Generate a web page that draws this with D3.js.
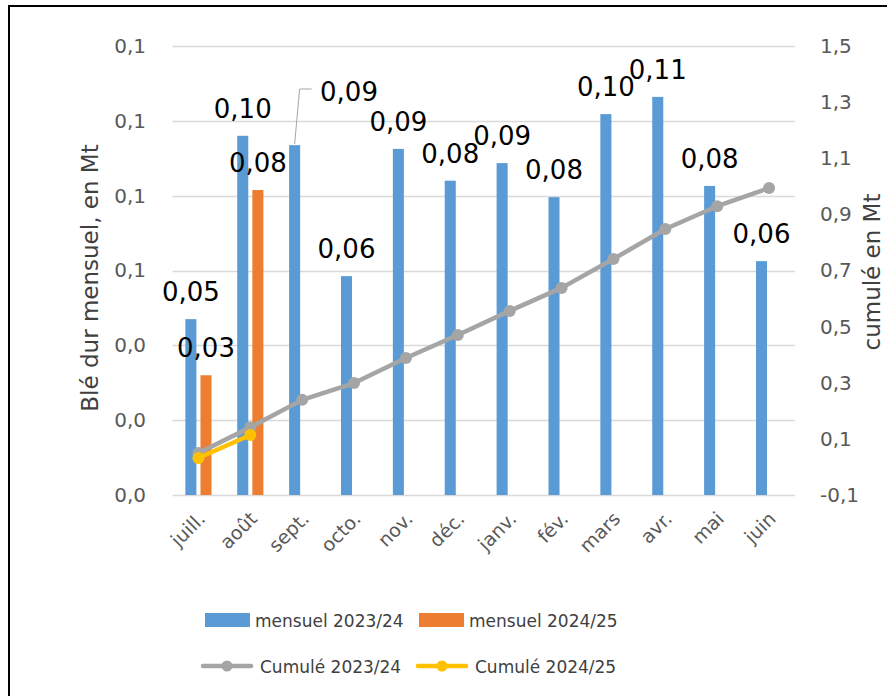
<!DOCTYPE html>
<html>
<head>
<meta charset="utf-8">
<script src="https://cdn.jsdelivr.net/npm/d3@7"></script>
<style>
  body { margin: 0; background: #fff; }
  svg { display: block; font-family: "DejaVu Sans", sans-serif; }
</style>
</head>
<body>
<div id="chart"></div>
<script>
var months = ['juill.', 'août', 'sept.', 'octo.', 'nov.', 'déc.', 'janv.', 'fév.', 'mars', 'avr.', 'mai', 'juin'];
var mensuel2324 = [0.047, 0.096, 0.0935, 0.0585, 0.0925, 0.084, 0.0887, 0.0796, 0.1018, 0.1064, 0.0826, 0.0625];
var mensuel2425 = [0.032, 0.0815];
var cumul2324 = [0.050, 0.141, 0.239, 0.299, 0.388, 0.470, 0.556, 0.638, 0.741, 0.848, 0.929, 0.994];
var cumul2425 = [0.032, 0.114];
var leftTicks = [0, 0.02, 0.04, 0.06, 0.08, 0.10, 0.12];
var rightTicks = [-0.1, 0.1, 0.3, 0.5, 0.7, 0.9, 1.1, 1.3, 1.5];
var seriesNames = ['mensuel 2023/24', 'mensuel 2024/25', 'Cumulé 2023/24', 'Cumulé 2024/25'];

(function() {
  var W = 887, H = 696;
  var left = 172.5, right = 795, top = 46, bottom = 495;
  var blue = '#5b9bd5', orange = '#ed7d31', grey = '#a5a5a5', yellow = '#ffc000';

  var fmt1 = function(v) { return d3.format('.1f')(v).replace('.', ',').replace('−', '-'); };
  var fmt2 = function(v) { return d3.format('.2f')(v).replace('.', ','); };

  var x = d3.scaleBand().domain(months).range([left, right]);
  var xSub = d3.scaleBand().domain([0, 1]).range([0, x.bandwidth()])
      .paddingInner(0.27).paddingOuter(0.85);
  var yL = d3.scaleLinear().domain([0, 0.12]).range([bottom, top]);
  var yR = d3.scaleLinear().domain([-0.1, 1.5]).range([bottom, top]);

  var svg = d3.select('#chart').append('svg')
      .attr('width', W).attr('height', H);

  svg.append('rect').attr('width', W).attr('height', H).attr('fill', '#fff');

  // frame (only top and left edges fall inside the picture)
  svg.append('rect')
      .attr('x', 9).attr('y', 6).attr('width', 900).attr('height', 720)
      .attr('fill', 'none').attr('stroke', '#000').attr('stroke-width', 2);

  // gridlines
  svg.append('g').selectAll('line')
      .data(leftTicks)
      .enter().append('line')
      .attr('x1', left).attr('x2', right)
      .attr('y1', function(d) { return Math.round(yL(d)) + 0.5; })
      .attr('y2', function(d) { return Math.round(yL(d)) + 0.5; })
      .attr('stroke', '#d9d9d9').attr('stroke-width', 1.3);

  // left axis labels
  var yAxisL = d3.axisLeft(yL).tickValues(leftTicks).tickFormat(fmt1).tickSize(0).tickPadding(0);
  var gL = svg.append('g').attr('transform', 'translate(146,0)').call(yAxisL);
  gL.select('.domain').remove();
  gL.selectAll('text').attr('fill', '#595959').style('font-size', '20px')
      .style('font-family', '"DejaVu Sans", sans-serif');

  // right axis labels
  var yAxisR = d3.axisRight(yR).tickValues(rightTicks).tickFormat(fmt1).tickSize(0).tickPadding(0);
  var gR = svg.append('g').attr('transform', 'translate(820,0)').call(yAxisR);
  gR.select('.domain').remove();
  gR.selectAll('text').attr('fill', '#595959').style('font-size', '20px')
      .style('font-family', '"DejaVu Sans", sans-serif');

  // x axis labels
  var xAxis = d3.axisBottom(x).tickSize(0).tickPadding(0);
  var gX = svg.append('g').attr('transform', 'translate(0,' + bottom + ')').call(xAxis);
  gX.select('.domain').remove();
  gX.selectAll('text')
      .attr('fill', '#595959').style('font-size', '19px')
      .style('font-family', '"DejaVu Sans", sans-serif')
      .attr('text-anchor', 'end')
      .attr('dy', null).attr('y', null)
      .attr('transform', 'translate(8,25) rotate(-45)');

  // bars
  svg.append('g').selectAll('rect')
      .data(mensuel2324)
      .enter().append('rect')
      .attr('x', function(d, i) { return x(months[i]) + xSub(0); })
      .attr('y', function(d) { return yL(d); })
      .attr('width', xSub.bandwidth())
      .attr('height', function(d) { return bottom - yL(d); })
      .attr('fill', blue);

  svg.append('g').selectAll('rect')
      .data(mensuel2425)
      .enter().append('rect')
      .attr('x', function(d, i) { return x(months[i]) + xSub(1); })
      .attr('y', function(d) { return yL(d); })
      .attr('width', xSub.bandwidth())
      .attr('height', function(d) { return bottom - yL(d); })
      .attr('fill', orange);

  // lines
  var line = d3.line()
      .x(function(d, i) { return x(months[i]) + x.bandwidth() / 2; })
      .y(function(d) { return yR(d); });

  function drawCumul(data, color) {
    svg.append('path').datum(data)
        .attr('d', line)
        .attr('fill', 'none').attr('stroke', color)
        .attr('stroke-width', 4.5).attr('stroke-linejoin', 'round').attr('stroke-linecap', 'round');
    svg.append('g').selectAll('circle')
        .data(data)
        .enter().append('circle')
        .attr('cx', function(d, i) { return x(months[i]) + x.bandwidth() / 2; })
        .attr('cy', function(d) { return yR(d); })
        .attr('r', 6)
        .attr('fill', color);
  }
  drawCumul(cumul2324, grey);
  drawCumul(cumul2425, yellow);

  // data labels
  var labels = svg.append('g')
      .style('font-size', '26px').attr('fill', '#000').attr('text-anchor', 'middle');

  mensuel2324.forEach(function(d, i) {
    var cx = x(months[i]) + xSub(0) + xSub.bandwidth() / 2;
    var ty = yL(d) - 18;
    if (months[i] === 'sept.') {
      // label moved out with a leader line
      svg.append('polyline')
          .attr('points', [[cx, yL(d) - 1], [cx + 5, 89], [cx + 17, 89]].join(' '))
          .attr('fill', 'none').attr('stroke', '#a6a6a6').attr('stroke-width', 1);
      cx = 349; ty = 101;
    }
    labels.append('text').attr('x', cx).attr('y', ty).text(fmt2(d));
  });
  mensuel2425.forEach(function(d, i) {
    var cx = x(months[i]) + xSub(1) + xSub.bandwidth() / 2;
    labels.append('text').attr('x', cx).attr('y', yL(d) - 18).text(fmt2(d));
  });

  // axis titles
  svg.append('text')
      .attr('transform', 'translate(98,278) rotate(-90)')
      .attr('text-anchor', 'middle')
      .attr('fill', '#404040').style('font-size', '23px')
      .text('Blé dur mensuel, en Mt');
  svg.append('text')
      .attr('transform', 'translate(880,272) rotate(-90)')
      .attr('text-anchor', 'middle')
      .attr('fill', '#404040').style('font-size', '23px')
      .text('cumulé en Mt');

  // legend
  var legend = svg.append('g').style('font-size', '17px').attr('fill', '#404040');
  var legendPos = [[205, 620], [419, 620], [203, 666], [418, 666]];
  var legendColors = [blue, orange, grey, yellow];

  seriesNames.forEach(function(name, i) {
    var p = legendPos[i];
    if (i < 2) {
      legend.append('rect').attr('x', p[0]).attr('y', p[1] - 7)
          .attr('width', 45).attr('height', 14).attr('fill', legendColors[i]);
      legend.append('text').attr('x', p[0] + 50).attr('y', p[1] + 7).text(name);
    } else {
      legend.append('line').attr('x1', p[0]).attr('x2', p[0] + 48)
          .attr('y1', p[1]).attr('y2', p[1])
          .attr('stroke', legendColors[i]).attr('stroke-width', 4.5).attr('stroke-linecap', 'round');
      legend.append('circle').attr('cx', p[0] + 24).attr('cy', p[1]).attr('r', 5.5)
          .attr('fill', legendColors[i]);
      legend.append('text').attr('x', p[0] + 57).attr('y', p[1] + 7).text(name);
    }
  });
})();
</script>
</body>
</html>
